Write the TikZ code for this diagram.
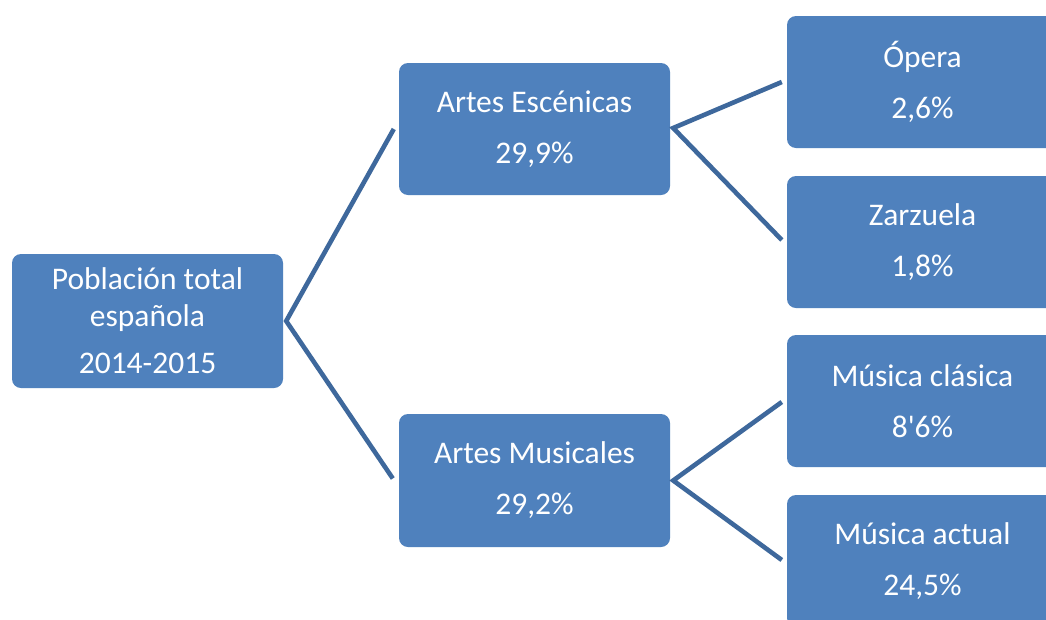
\documentclass[tikz,border=0pt]{standalone}
\usepackage{fontspec}
\setmainfont{Carlito}[Ligatures=TeXOff]
\usetikzlibrary{calc}
\definecolor{boxblue}{HTML}{4F81BD}
\definecolor{linkblue}{HTML}{3E689C}
\tikzset{
  box/.style={draw=none, fill=boxblue, rounded corners=9pt, minimum width=271pt,
    minimum height=132pt, inner sep=0pt, text=white, align=center,
    font=\fontsize{31.5}{37}\selectfont},
  link/.style={draw=linkblue, line width=4.6pt, line join=miter}
}
\begin{document}
\begin{tikzpicture}[x=1pt,y=-1pt]
\clip (0,0) rectangle (1046,619);
\fill[white] (0,0) rectangle (1046,619);
\node[box, minimum height=134pt] (root) at (147.5,321) {Población total\\española\\[10pt]2014-2015};
\node[box] (ae) at (534.5,129) {Artes Escénicas\\[14pt]29,9\%};
\node[box, minimum height=133pt] (am) at (534.5,480.5) {Artes Musicales\\[14pt]29,2\%};
\node[box] (op) at (922.5,82) {Ópera\\[14pt]2,6\%};
\node[box] (za) at (922.5,242) {Zarzuela\\[14pt]1,8\%};
\node[box] (mc) at (922.5,401) {Música clásica\\[14pt]8'6\%};
\node[box] (ma) at (922.5,561) {Música actual\\[14pt]24,5\%};
\coordinate (v0) at ($(root.east)+(3,0)$);
\coordinate (v1) at ($(ae.east)+(3,-1)$);
\coordinate (v2) at ($(am.east)+(3,0)$);
\draw[link] ($(ae.west)+(-5,0)$) -- (v0) -- ($(am.west)+(-6,-2)$);
\draw[link] ($(op.west)+(-5,0)$) -- (v1) -- ($(za.west)+(-5,-2)$);
\draw[link] ($(mc.west)+(-5,1)$) -- (v2) -- ($(ma.west)+(-5,-1)$);
\end{tikzpicture}
\end{document}
